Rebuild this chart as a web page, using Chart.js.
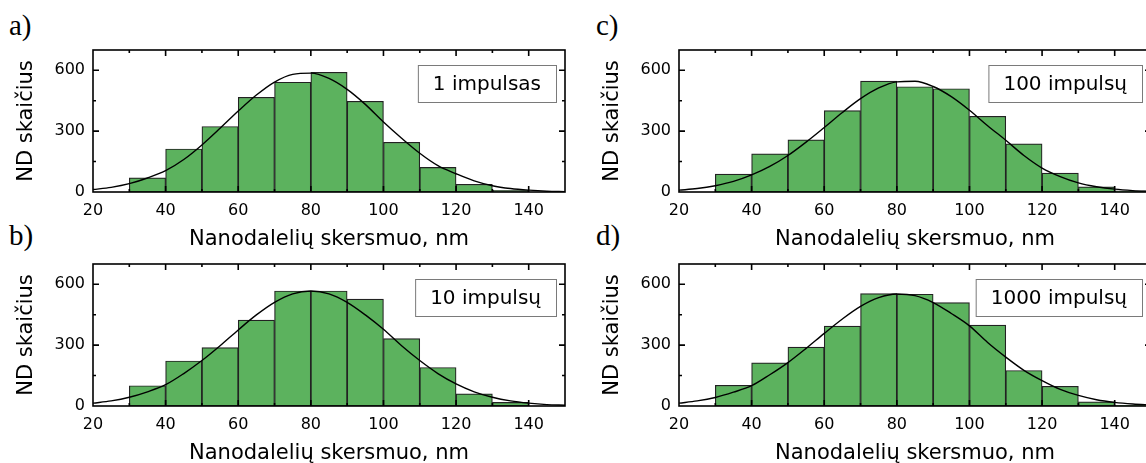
<!DOCTYPE html>
<html>
<head>
<meta charset="utf-8">
<script src="https://cdn.jsdelivr.net/npm/chart.js@4.4.1/dist/chart.umd.min.js"></script>
<style>
  html, body { margin: 0; padding: 0; width: 1146px; height: 463px; overflow: hidden; background: #fff; }
  canvas { position: absolute; }
  .tag { position: absolute; font-family: "Liberation Serif", serif; font-size: 29px; line-height: 1; color: #000; }
</style>
</head>
<body>
<div class="tag" style="left:9px;top:11px">a)</div>
<div class="tag" style="left:9px;top:221px">b)</div>
<div class="tag" style="left:596px;top:11px">c)</div>
<div class="tag" style="left:596px;top:221px">d)</div>

<canvas id="chartA" width="580" height="252" style="left:0px;top:0px"></canvas>
<canvas id="chartB" width="580" height="252" style="left:0px;top:214px"></canvas>
<canvas id="chartC" width="580" height="252" style="left:586px;top:0px"></canvas>
<canvas id="chartD" width="580" height="252" style="left:586px;top:214px"></canvas>

<script>
// histogram bins (centres of 10 nm bins, 30..150 nm)
var binCenters = [35, 45, 55, 65, 75, 85, 95, 105, 115, 125, 135, 145];

var countsA = [70, 212, 323, 467, 541, 590, 447, 245, 121, 38, 8, 0];
var countsB = [100, 222, 288, 423, 567, 567, 527, 332, 190, 60, 18, 0];
var countsC = [88, 188, 257, 401, 547, 519, 509, 373, 237, 93, 25, 6];
var countsD = [102, 213, 290, 394, 554, 551, 510, 399, 175, 97, 20, 3];

// fitted curve, every 5 nm
var curveX = [20, 25, 30, 35, 40, 45, 50, 55, 60, 65, 70, 75, 80, 85, 90, 95, 100, 105, 110, 115, 120, 125, 130, 135, 140, 145, 150];
var fitA = [12, 23, 41, 69, 105, 160, 232, 314, 399, 478, 542, 580, 586, 560, 506, 432, 345, 265, 191, 130, 90, 55, 31, 17, 9, 4, 2];
var fitB = [14, 25, 43, 70, 105, 160, 224, 297, 375, 449, 511, 553, 567, 553, 511, 449, 378, 297, 224, 160, 109, 70, 43, 25, 14, 7, 4];
var fitC = [9, 17, 31, 52, 84, 126, 180, 246, 318, 392, 460, 513, 543, 546, 520, 470, 403, 327, 255, 180, 118, 76, 45, 26, 14, 7, 3];
var fitD = [14, 25, 42, 68, 100, 154, 214, 284, 358, 429, 491, 534, 552, 544, 510, 456, 395, 313, 241, 176, 125, 82, 52, 31, 18, 10, 5];

var xLabels = [20, 40, 60, 80, 100, 120, 140];
var yLabels = [0, 300, 600];
var xMarks = [30, 40, 50, 60, 70, 80, 90, 100, 110, 120, 130, 140];
var yMarks = [150, 300, 450, 600];

var xTitle = "Nanodalelių skersmuo, nm";
var yTitle = "ND skaičius";

var FONT = '"DejaVu Sans", sans-serif';

// box frame with inward ticks on all four sides + label box
var frame = {
  id: "frame",
  afterDatasetsDraw: function (chart, args, opts) {
    var ctx = chart.ctx, a = chart.chartArea, x = chart.scales.x, y = chart.scales.y;
    ctx.save();
    ctx.strokeStyle = "#000";
    ctx.lineWidth = 1.6;
    ctx.strokeRect(a.left, a.top, a.right - a.left, a.bottom - a.top);
    ctx.beginPath();
    xMarks.forEach(function (v) {
      var px = x.getPixelForValue(v);
      var len = v % 20 === 0 ? 6 : 3;
      ctx.moveTo(px, a.bottom); ctx.lineTo(px, a.bottom - len);
      ctx.moveTo(px, a.top); ctx.lineTo(px, a.top + len);
    });
    yMarks.forEach(function (v) {
      var py = y.getPixelForValue(v);
      var len = v % 300 === 0 ? 6 : 3;
      ctx.moveTo(a.left, py); ctx.lineTo(a.left + len, py);
      ctx.moveTo(a.right, py); ctx.lineTo(a.right - len, py);
    });
    ctx.stroke();

    ctx.font = "20px " + FONT;
    var w = ctx.measureText(opts.label).width + 30;
    var h = 37;
    var bx = a.right - 9 - w, by = a.top + 15;
    ctx.fillStyle = "#fff";
    ctx.fillRect(bx, by, w, h);
    ctx.strokeStyle = "#7a7a7a";
    ctx.lineWidth = 1;
    ctx.strokeRect(bx + 0.5, by + 0.5, w, h);
    ctx.fillStyle = "#000";
    ctx.textAlign = "center";
    ctx.textBaseline = "middle";
    ctx.fillText(opts.label, bx + w / 2, by + h / 2 + 1);
    ctx.restore();
  }
};

function makePanel(id, counts, fit, label) {
  var bars = binCenters.map(function (c, i) { return { x: c, y: counts[i] }; });
  var line = curveX.map(function (c, i) { return { x: c, y: fit[i] }; });

  return new Chart(document.getElementById(id), {
    type: "bar",
    data: {
      datasets: [
        {
          type: "line",
          data: line,
          borderColor: "#000",
          borderWidth: 1.4,
          pointRadius: 0,
          cubicInterpolationMode: "monotone",
          order: 0
        },
        {
          type: "bar",
          data: bars,
          backgroundColor: "#5cb25e",
          borderColor: "#222",
          borderWidth: 1.2,
          borderSkipped: false,
          barPercentage: 1,
          categoryPercentage: 1,
          order: 1
        }
      ]
    },
    options: {
      responsive: false,
      animation: false,
      layout: { padding: { left: 0, top: 50, right: 15, bottom: 0 } },
      plugins: {
        legend: { display: false },
        tooltip: { enabled: false },
        frame: { label: label }
      },
      scales: {
        x: {
          type: "linear",
          min: 20,
          max: 150,
          offset: false,
          grid: { display: false, drawTicks: false },
          border: { display: false },
          afterBuildTicks: function (s) { s.ticks = xLabels.map(function (v) { return { value: v }; }); },
          afterFit: function (s) { s.height = 60; },
          ticks: { color: "#000", padding: 9, maxRotation: 0, font: { family: FONT, size: 16 } },
          title: { display: true, text: xTitle, color: "#000", padding: { top: 0, bottom: 0 }, font: { family: FONT, size: 21 } }
        },
        y: {
          min: 0,
          max: 700,
          grid: { display: false, drawTicks: false },
          border: { display: false },
          afterBuildTicks: function (s) { s.ticks = yLabels.map(function (v) { return { value: v }; }); },
          afterFit: function (s) { s.width = 93; },
          ticks: { color: "#000", padding: 8, font: { family: FONT, size: 16 } },
          title: { display: true, text: yTitle, color: "#000", padding: { top: 14, bottom: 0 }, font: { family: FONT, size: 21 } }
        }
      }
    },
    plugins: [frame]
  });
}

makePanel("chartA", countsA, fitA, "1 impulsas");
makePanel("chartB", countsB, fitB, "10 impulsų");
makePanel("chartC", countsC, fitC, "100 impulsų");
makePanel("chartD", countsD, fitD, "1000 impulsų");
</script>
</body>
</html>
